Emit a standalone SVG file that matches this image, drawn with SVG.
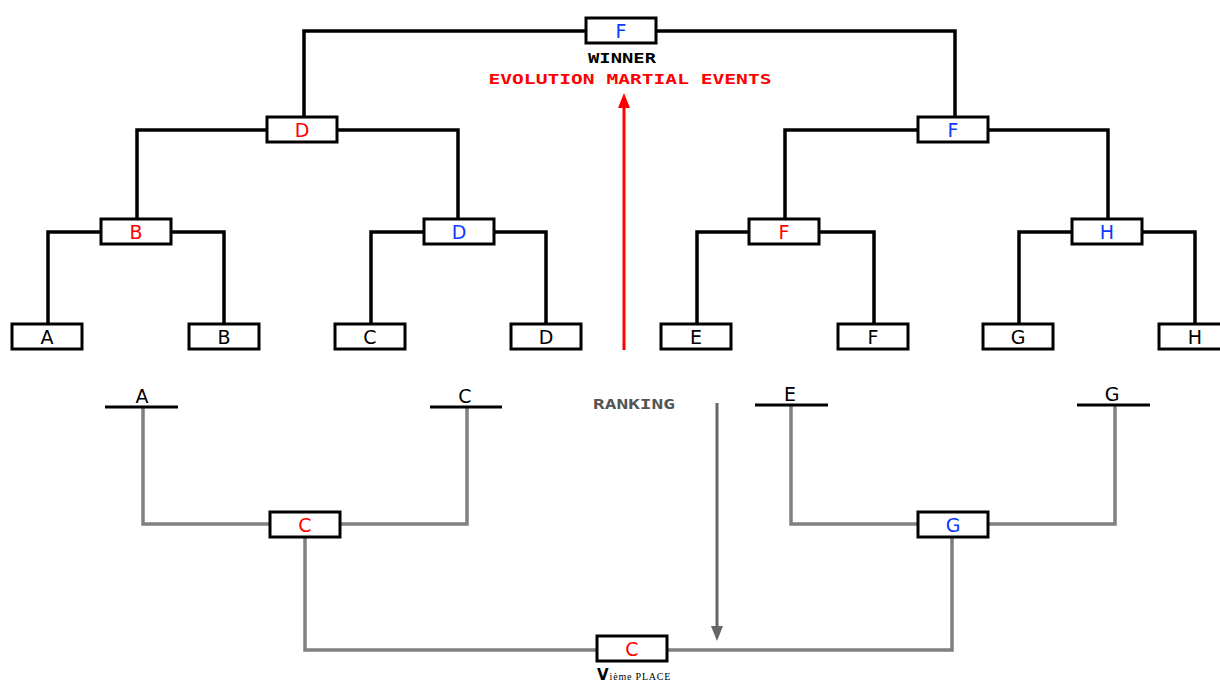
<svg xmlns="http://www.w3.org/2000/svg" width="1220" height="682" viewBox="0 0 1220 682">
<style>
.b{fill:#fff;stroke:#000;stroke-width:3}
.t{font-family:"DejaVu Sans",Verdana,sans-serif;font-size:19px;text-anchor:middle}
.r{fill:#ff0000}.u{fill:#0a3cff}.k{fill:#000}
.c path{fill:none;stroke:#000;stroke-width:3.5}
.g path{fill:none;stroke:#808080;stroke-width:3.5}
.m{font-family:"DejaVu Sans Mono",monospace;font-weight:bold;font-size:14px;text-anchor:middle}
.br{stroke:#000;stroke-width:3}
</style>
<g class="c" id="connectors">
<path d="M304,117 V31 H955 V117"/>
<path d="M137,219 V130 H458 V219"/>
<path d="M48,324 V232 H224 V324"/>
<path d="M371,324 V232 H546 V324"/>
<path d="M785,219 V130 H1108 V219"/>
<path d="M697,324 V232 H874 V324"/>
<path d="M1019,324 V232 H1195 V324"/>
</g>
<g class="g" id="ranking-connectors">
<path d="M143,407 V524 H467 V407"/>
<path d="M305,537 V650 H952 V537"/>
<path d="M791,405 V524 H1115 V405"/>
</g>
<g id="arrow-up">
<line x1="624" y1="350" x2="624" y2="106" stroke="#ff0000" stroke-width="3"/>
<path d="M618,108 L624,93 L630,108 z" fill="#ff0000"/>
</g>
<g id="arrow-down">
<line x1="717" y1="403" x2="717" y2="628" stroke="#666" stroke-width="3"/>
<path d="M711,626 L717,641 L723,626 z" fill="#666"/>
</g>
<g id="n-final"><rect class="b" x="586" y="18" width="70" height="25"/><text class="t u" x="621" y="38">F</text></g>
<g id="n-semi-left"><rect class="b" x="267" y="117" width="70" height="25"/><text class="t r" x="302" y="137">D</text></g>
<g id="n-semi-right"><rect class="b" x="918" y="117" width="70" height="25"/><text class="t u" x="953" y="137">F</text></g>
<g id="n-q1"><rect class="b" x="101" y="219" width="70" height="25"/><text class="t r" x="136" y="239">B</text></g>
<g id="n-q2"><rect class="b" x="424" y="219" width="70" height="25"/><text class="t u" x="459" y="239">D</text></g>
<g id="n-q3"><rect class="b" x="749" y="219" width="70" height="25"/><text class="t r" x="784" y="239">F</text></g>
<g id="n-q4"><rect class="b" x="1072" y="219" width="70" height="25"/><text class="t u" x="1107" y="239">H</text></g>
<g id="n-A"><rect class="b" x="12" y="324" width="70" height="25"/><text class="t k" x="47" y="344">A</text></g>
<g id="n-B"><rect class="b" x="189" y="324" width="70" height="25"/><text class="t k" x="224" y="344">B</text></g>
<g id="n-C"><rect class="b" x="335" y="324" width="70" height="25"/><text class="t k" x="370" y="344">C</text></g>
<g id="n-D"><rect class="b" x="511" y="324" width="70" height="25"/><text class="t k" x="546" y="344">D</text></g>
<g id="n-E"><rect class="b" x="661" y="324" width="70" height="25"/><text class="t k" x="696" y="344">E</text></g>
<g id="n-F"><rect class="b" x="838" y="324" width="70" height="25"/><text class="t k" x="873" y="344">F</text></g>
<g id="n-G"><rect class="b" x="983" y="324" width="70" height="25"/><text class="t k" x="1018" y="344">G</text></g>
<g id="n-H"><rect class="b" x="1159" y="324" width="70" height="25"/><text class="t k" x="1195" y="344">H</text></g>
<g id="labels">
<text class="m k" x="622" y="63" textLength="68" lengthAdjust="spacingAndGlyphs">WINNER</text>
<text class="m r" x="630" y="84" textLength="283" lengthAdjust="spacingAndGlyphs">EVOLUTION MARTIAL EVENTS</text>
<text class="m" x="634" y="409" fill="#555" textLength="82" lengthAdjust="spacingAndGlyphs">RANKING</text>
</g>
<g id="r-A"><line class="br" x1="105" y1="407" x2="178" y2="407"/><text class="t k" x="142" y="403">A</text></g>
<g id="r-C"><line class="br" x1="430" y1="407" x2="502" y2="407"/><text class="t k" x="465" y="403">C</text></g>
<g id="r-E"><line class="br" x1="755" y1="405" x2="828" y2="405"/><text class="t k" x="790" y="401">E</text></g>
<g id="r-G"><line class="br" x1="1077" y1="405" x2="1150" y2="405"/><text class="t k" x="1112" y="401">G</text></g>
<g id="n-rC"><rect class="b" x="270" y="512" width="70" height="25"/><text class="t r" x="305" y="532">C</text></g>
<g id="n-rG"><rect class="b" x="918" y="512" width="70" height="25"/><text class="t u" x="953" y="532">G</text></g>
<g id="n-place"><rect class="b" x="597" y="636" width="70" height="25"/><text class="t r" x="632" y="656">C</text>
<text x="597" y="680" font-family="Liberation Serif,serif" font-size="10" letter-spacing="0.8" fill="#000"><tspan font-family="DejaVu Sans,sans-serif" font-weight="bold" font-size="15" letter-spacing="1">V</tspan>ième PLACE</text></g>
</svg>
